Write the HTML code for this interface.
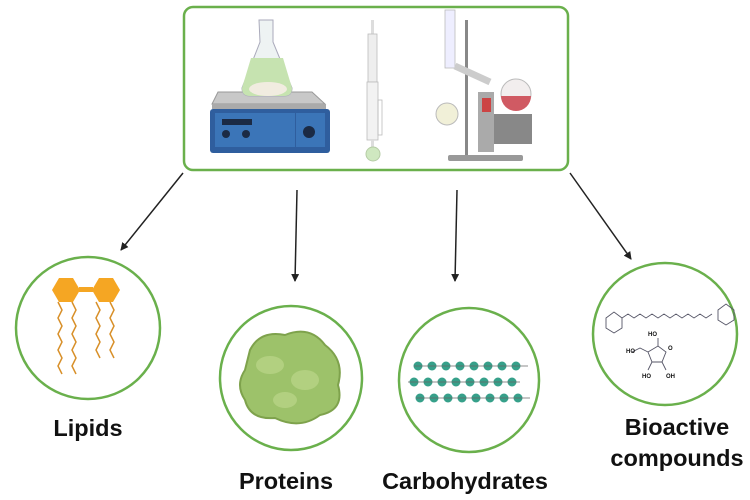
<!DOCTYPE html>
<html><head><meta charset="utf-8"><style>
body{margin:0;background:#fff;width:750px;height:500px;overflow:hidden}
svg{display:block}
text{font-family:"Liberation Sans",sans-serif;font-weight:bold;fill:#111}
</style></head><body>
<svg width="750" height="500" viewBox="0 0 750 500">
<defs><marker id="ah" markerWidth="8" markerHeight="8" refX="7" refY="4" orient="auto" markerUnits="userSpaceOnUse"><path d="M0,0 L8,4 L0,8 Z" fill="#222"/></marker></defs>
<rect x="184" y="7" width="384" height="163" rx="9" fill="#fff" stroke="#6ab04c" stroke-width="2.5"/>
<!-- hot plate -->
<polygon points="218,92 312,92 325,104 212,104" fill="#c8c8c8" stroke="#999"/>
<rect x="212" y="104" width="114" height="5" fill="#aaa"/>
<rect x="210" y="109" width="120" height="44" rx="3" fill="#2f5e9e"/>
<rect x="215" y="113" width="80" height="34" fill="#3b75b8"/>
<rect x="296" y="113" width="29" height="34" fill="#3b75b8"/>
<rect x="222" y="119" width="30" height="6" fill="#1b2a44"/>
<circle cx="226" cy="134" r="4" fill="#1b2a44"/><circle cx="246" cy="134" r="4" fill="#1b2a44"/><circle cx="309" cy="132" r="6" fill="#1b2a44"/>
<!-- flask -->
<path d="M259,20 L273,20 L273,42 L292,88 Q292,96 284,96 L250,96 Q242,96 242,88 L260,42 Z" fill="#eef3f3" stroke="#aab" stroke-width="1"/>
<path d="M251,58 L283,58 L292,88 Q292,96 284,96 L250,96 Q242,96 242,88 Z" fill="#c6e3b0"/>
<ellipse cx="268" cy="89" rx="19" ry="7" fill="#f1ece0"/>
<!-- soxhlet -->
<rect x="371" y="20" width="3" height="14" fill="#ddd"/>
<rect x="368" y="34" width="9" height="48" fill="#eee" stroke="#bbb" stroke-width="0.8"/>
<rect x="367" y="82" width="11" height="58" fill="#f2f2f2" stroke="#bbb" stroke-width="0.8"/>
<rect x="378" y="100" width="4" height="35" fill="none" stroke="#bbb" stroke-width="0.8"/>
<rect x="371" y="140" width="3" height="8" fill="#ddd"/>
<circle cx="373" cy="154" r="7" fill="#cfe8c0" stroke="#b5cca5"/>
<!-- rotavap -->
<rect x="445" y="10" width="10" height="58" fill="#eef" stroke="#bbb" stroke-width="0.8"/>
<rect x="465" y="20" width="3" height="140" fill="#888"/>
<path d="M455,66 L490,82" stroke="#ccc" stroke-width="7"/>
<circle cx="516" cy="94" r="15" fill="#f2eeee" stroke="#bbb"/>
<path d="M501,96 L531,96 A15,15 0 0 1 501,96 Z" fill="#d05a63"/>
<rect x="492" y="114" width="40" height="30" fill="#888"/>
<rect x="478" y="92" width="16" height="60" fill="#aaa"/>
<rect x="482" y="98" width="9" height="14" fill="#c44"/>
<circle cx="447" cy="114" r="11" fill="#f1f0d8" stroke="#bbb"/>
<rect x="448" y="155" width="75" height="6" rx="2" fill="#999"/>
<!-- arrows -->
<g stroke="#222" stroke-width="1.5" marker-end="url(#ah)">
<line x1="183" y1="173" x2="121" y2="250"/>
<line x1="297" y1="190" x2="295" y2="281"/>
<line x1="457" y1="190" x2="455" y2="281"/>
<line x1="570" y1="173" x2="631" y2="259"/>
</g>
<!-- circles -->
<g fill="#fff" stroke="#6ab04c" stroke-width="2.5">
<ellipse cx="88" cy="328" rx="72" ry="71"/>
<ellipse cx="291" cy="378" rx="71" ry="72"/>
<ellipse cx="469" cy="380" rx="70" ry="72"/>
<ellipse cx="665" cy="334" rx="72" ry="71"/>
</g>
<!-- lipids -->
<polygon points="52,290 59,278 73,278 80,290 73,302 59,302" fill="#f5a623"/>
<polygon points="92,290 99,278 113,278 120,290 113,302 99,302" fill="#f5a623"/>
<rect x="79" y="287" width="14" height="5" fill="#f5a623"/>
<g stroke="#d8902a" stroke-width="1.5" fill="none">
<path d="M58,302 l4,8 -4,8 4,8 -4,8 4,8 -4,8 4,8 -4,8 4,8"/>
<path d="M72,302 l4,8 -4,8 4,8 -4,8 4,8 -4,8 4,8 -4,8 4,8"/>
<path d="M96,302 l4,8 -4,8 4,8 -4,8 4,8 -4,8 4,8"/>
<path d="M110,302 l4,8 -4,8 4,8 -4,8 4,8 -4,8 4,8"/>
</g>
<!-- protein -->
<path d="M250,350 Q260,330 285,335 Q310,325 325,345 Q345,360 338,385 Q345,410 320,415 Q300,430 275,418 Q250,420 245,400 Q235,385 245,370 Z" fill="#9dc26a" stroke="#7ea24c" stroke-width="2"/>
<ellipse cx="270" cy="365" rx="14" ry="9" fill="#b2d080"/><ellipse cx="305" cy="380" rx="14" ry="10" fill="#b2d080"/><ellipse cx="285" cy="400" rx="12" ry="8" fill="#b2d080"/>
<!-- carbs -->
<g fill="#36a08a">
<g id="row"><circle cx="418" cy="366" r="4.5"/><circle cx="432" cy="366" r="4.5"/><circle cx="446" cy="366" r="4.5"/><circle cx="460" cy="366" r="4.5"/><circle cx="474" cy="366" r="4.5"/><circle cx="488" cy="366" r="4.5"/><circle cx="502" cy="366" r="4.5"/><circle cx="516" cy="366" r="4.5"/></g>
<use href="#row" x="-4" y="16"/><use href="#row" x="2" y="32"/>
</g>
<g stroke="#666" stroke-width="0.7"><line x1="414" y1="366" x2="528" y2="366"/><line x1="408" y1="382" x2="520" y2="382"/><line x1="416" y1="398" x2="530" y2="398"/></g>
<!-- bioactive -->
<g stroke="#556" stroke-width="0.9" fill="none">
<polygon points="606,318 614,312 622,318 622,328 614,333 606,328"/>
<path d="M622,318 l6,-4 6,4 6,-4 6,4 6,-4 6,4 6,-4 6,4 6,-4 6,4 6,-4 6,4 6,-4 6,4 6,-4"/>
<polygon points="718,310 726,304 734,310 734,320 726,325 718,320"/>
<polygon points="648,352 658,346 666,352 662,362 652,362"/>
<path d="M648,352 l-8,-4 -8,4 M658,346 v-8 M652,362 l-4,8 M662,362 l4,8"/>
</g>
<g style="font-size:6px"><text x="626" y="353">HO</text><text x="648" y="336">HO</text><text x="668" y="350">O</text><text x="642" y="378">HO</text><text x="666" y="378">OH</text></g>
<!-- labels -->
<g font-size="23.5">
<text x="88" y="436" text-anchor="middle">Lipids</text>
<text x="286" y="489" text-anchor="middle">Proteins</text>
<text x="465" y="489" text-anchor="middle">Carbohydrates</text>
<text x="677" y="435" text-anchor="middle">Bioactive</text>
<text x="677" y="466" text-anchor="middle">compounds</text>
</g>
</svg>
</body></html>
